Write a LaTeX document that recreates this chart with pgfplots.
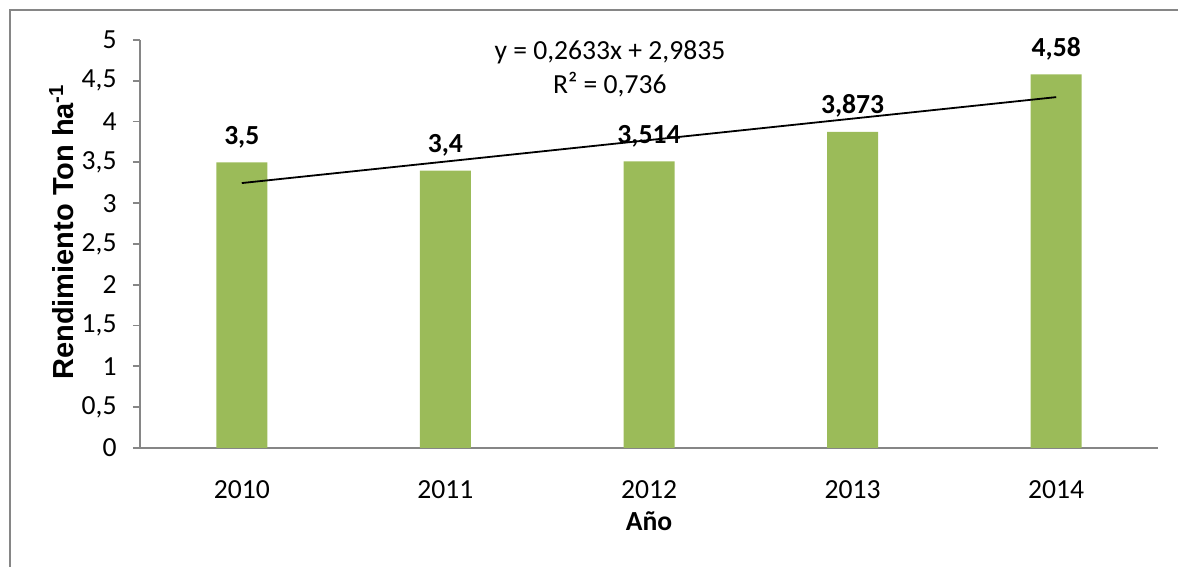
\documentclass[border=0pt]{standalone}
\usepackage{fontspec}
\setmainfont{Carlito}
\newfontfamily\arialfont{Liberation Sans}
\usepackage{pgfplots}
\pgfplotsset{compat=1.18}
\definecolor{bargreen}{HTML}{9BBB59}
\definecolor{axgray}{HTML}{868686}
\begin{document}
\begin{tikzpicture}
\useasboundingbox (0,0) rectangle (589pt,283.5pt);
\draw[color=axgray, line width=1pt] (5pt,0) -- (5pt,278.5pt) -- (589pt,278.5pt);
\begin{axis}[
  at={(70pt,59.5pt)}, anchor=south west,
  scale only axis, width=509pt, height=204pt,
  xmin=-0.5, xmax=4.5, ymin=0, ymax=5,
  axis x line=bottom, axis y line=left,
  axis line style={color=axgray, line width=0.9pt, -},
  xtick={0,1,2,3,4}, xticklabels={2010,2011,2012,2013,2014},
  xtick style={draw=none},
  ytick={0,0.5,1,1.5,2,2.5,3,3.5,4,4.5,5},
  yticklabels={0,{0,5},1,{1,5},2,{2,5},3,{3,5},4,{4,5},5},
  ytick style={color=axgray, line width=0.9pt},
  tick align=outside, major tick length=3.5pt,
  tick label style={font=\fontsize{13.8}{13.8}\selectfont},
  xticklabel style={anchor=center, yshift=-17.5pt},
  yticklabel style={anchor=east, inner sep=0pt, xshift=-8pt},
  /pgf/number format/assume math mode=true,
  /pgf/number format/use comma,
  /pgf/number format/precision=3,
  ylabel={\arialfont\bfseries Rendimiento Ton ha\textsuperscript{-1}},
  ylabel style={font=\fontsize{14.5}{14.5}\selectfont, at={(axis description cs:-0.077,0.53)}, anchor=center, rotate=0},
  xlabel={\bfseries Año},
  xlabel style={font=\fontsize{13.8}{13.8}\selectfont, at={(axis description cs:0.5,-0.18)}, anchor=center},
  clip=false,
]
\addplot[ybar, bar width=25.5pt, fill=bargreen, draw=none,
  nodes near coords,
  nodes near coords style={font=\bfseries\fontsize{13.8}{13.8}\selectfont, anchor=base, yshift=9pt, text=black}]
  coordinates {(0,3.5) (1,3.4) (2,3.514) (3,3.873) (4,4.58)};
\addplot[black, line width=0.9pt, no marks] coordinates {(0,3.2468) (4,4.2999)};
\node[font=\fontsize{13.8}{13.8}\selectfont] at (axis cs:1.808,4.85) {y = 0,2633x + 2,9835};
\node[font=\fontsize{13.8}{13.8}\selectfont] at (axis cs:1.808,4.45) {R² = 0,736};
\end{axis}
\end{tikzpicture}
\end{document}
